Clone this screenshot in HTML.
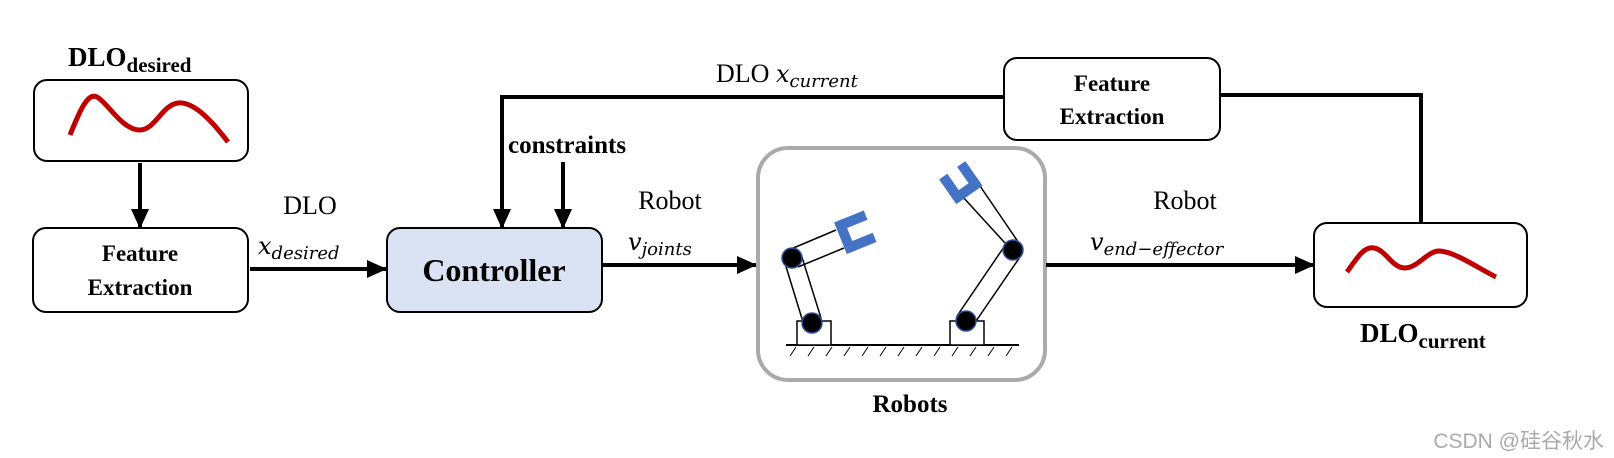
<!DOCTYPE html>
<html><head><meta charset="utf-8"><style>
html,body{margin:0;padding:0;background:#fff;}
svg{display:block;}
.b{font-family:"Liberation Serif",serif;font-weight:bold;}
.r{font-family:"Liberation Serif",serif;}
.i{font-family:"DejaVu Serif","Liberation Serif",serif;font-style:italic;}
</style></head><body>
<svg width="1614" height="458" viewBox="0 0 1614 458" xmlns="http://www.w3.org/2000/svg">
<defs>
<marker id="ah" markerWidth="20" markerHeight="18" refX="19" refY="9" orient="auto" markerUnits="userSpaceOnUse">
<path d="M0,0 L20,9 L0,18 Z" fill="#000"/></marker>
</defs>
<text x="68" y="66" class="b" font-size="27">DLO<tspan font-size="21" dy="6">desired</tspan></text>
<rect x="34" y="80" width="214" height="81" rx="13" fill="#fff" stroke="#000" stroke-width="2"/>
<path d="M70,135 C80,110 88,92 97,97 C108,103 122,130 140,130 C155,130 162,105 178,103 C195,101 215,125 228,142" fill="none" stroke="#c00000" stroke-width="5"/>
<line x1="140" y1="163" x2="140" y2="228" stroke="#000" stroke-width="4" marker-end="url(#ah)"/>
<rect x="33" y="228" width="215" height="84" rx="13" fill="#fff" stroke="#000" stroke-width="2"/>
<text x="140" y="261" class="b" font-size="23" text-anchor="middle">Feature</text>
<text x="140" y="295" class="b" font-size="23" text-anchor="middle">Extraction</text>
<text x="310" y="214" class="r" font-size="26" text-anchor="middle">DLO</text>
<text x="258" y="254" class="i" font-size="24">x<tspan font-size="18" dy="5">desired</tspan></text>
<line x1="250" y1="269" x2="386" y2="269" stroke="#000" stroke-width="4" marker-end="url(#ah)"/>
<rect x="387" y="228" width="215" height="84" rx="13" fill="#dae3f3" stroke="#000" stroke-width="2"/>
<text x="494" y="281" class="b" font-size="32" text-anchor="middle">Controller</text>
<polyline points="1004,97 502,97 502,228" fill="none" stroke="#000" stroke-width="4" marker-end="url(#ah)"/>
<text x="716" y="82" class="r" font-size="26">DLO <tspan class="i" font-size="24">x</tspan><tspan class="i" font-size="18" dy="5">current</tspan></text>
<text x="508" y="153" class="b" font-size="25">constraints</text>
<line x1="563" y1="162" x2="563" y2="228" stroke="#000" stroke-width="4" marker-end="url(#ah)"/>
<rect x="1004" y="58" width="216" height="82" rx="13" fill="#fff" stroke="#000" stroke-width="2"/>
<text x="1112" y="91" class="b" font-size="23" text-anchor="middle">Feature</text>
<text x="1112" y="124" class="b" font-size="23" text-anchor="middle">Extraction</text>
<polyline points="1221,95 1421,95 1421,223" fill="none" stroke="#000" stroke-width="4"/>
<text x="670" y="209" class="r" font-size="26" text-anchor="middle">Robot</text>
<text x="628" y="250" class="i" font-size="24">v<tspan font-size="18" dy="5">joints</tspan></text>
<line x1="603" y1="265" x2="756" y2="265" stroke="#000" stroke-width="4" marker-end="url(#ah)"/>
<rect x="758" y="148" width="287" height="232" rx="30" fill="#fff" stroke="#aaa" stroke-width="4"/>
<line x1="786" y1="345" x2="1019" y2="345" stroke="#000" stroke-width="2"/>
<g stroke="#000" stroke-width="1">
<path d="M790,356l6,-9M808,356l6,-9M826,356l6,-9M844,356l6,-9M862,356l6,-9M880,356l6,-9M898,356l6,-9M916,356l6,-9M934,356l6,-9M952,356l6,-9M970,356l6,-9M988,356l6,-9M1006,356l6,-9"/>
</g>
<rect x="797" y="321" width="34" height="24" fill="#fff" stroke="#000" stroke-width="1.5"/>
<line x1="784" y1="260" x2="803" y2="322" stroke="#000" stroke-width="1.5"/>
<line x1="801" y1="254" x2="821" y2="318" stroke="#000" stroke-width="1.5"/>
<line x1="791" y1="249" x2="836" y2="230" stroke="#000" stroke-width="1.5"/>
<line x1="798" y1="267" x2="844" y2="248" stroke="#000" stroke-width="1.5"/>
<g transform="translate(846,236) rotate(-22)">
<rect x="-6" y="-17" width="10" height="34" fill="#4472c4"/>
<rect x="-2" y="-17" width="28" height="10" fill="#4472c4"/>
<rect x="-2" y="7" width="28" height="10" fill="#4472c4"/>
</g>
<circle cx="792" cy="258" r="10" fill="#000" stroke="#2f4f9f" stroke-width="1.5"/>
<circle cx="812" cy="323" r="10" fill="#000" stroke="#2f4f9f" stroke-width="1.5"/>
<rect x="950" y="321" width="34" height="24" fill="#fff" stroke="#000" stroke-width="1.5"/>
<line x1="957" y1="316" x2="1006" y2="244" stroke="#000" stroke-width="1.5"/>
<line x1="974" y1="324" x2="1022" y2="254" stroke="#000" stroke-width="1.5"/>
<line x1="1005" y1="243" x2="962" y2="196" stroke="#000" stroke-width="1.5"/>
<line x1="1021" y1="246" x2="980" y2="186" stroke="#000" stroke-width="1.5"/>
<g transform="translate(966,190) rotate(-125)">
<rect x="-6" y="-16" width="10" height="32" fill="#4472c4"/>
<rect x="-2" y="-16" width="26" height="10" fill="#4472c4"/>
<rect x="-2" y="6" width="26" height="10" fill="#4472c4"/>
</g>
<circle cx="1013" cy="250" r="10" fill="#000" stroke="#2f4f9f" stroke-width="1.5"/>
<circle cx="966" cy="321" r="10" fill="#000" stroke="#2f4f9f" stroke-width="1.5"/>
<text x="910" y="412" class="b" font-size="25" text-anchor="middle">Robots</text>
<text x="1185" y="209" class="r" font-size="26" text-anchor="middle">Robot</text>
<text x="1090" y="250" class="i" font-size="24">v<tspan font-size="18" dy="5">end−effector</tspan></text>
<line x1="1046" y1="265" x2="1314" y2="265" stroke="#000" stroke-width="4" marker-end="url(#ah)"/>
<rect x="1314" y="223" width="213" height="84" rx="13" fill="#fff" stroke="#000" stroke-width="2"/>
<path d="M1347,272 C1357,258 1364,246 1374,248 C1386,250 1392,268 1405,268 C1418,268 1428,250 1440,251 C1455,252 1478,268 1496,277" fill="none" stroke="#c00000" stroke-width="5"/>
<text x="1360" y="342" class="b" font-size="27">DLO<tspan font-size="21" dy="6">current</tspan></text>
<text x="1604" y="448" font-family="'Liberation Sans','Noto Sans CJK SC',sans-serif" font-size="21" fill="#aaa" text-anchor="end">CSDN @硅谷秋水</text>
</svg>
</body></html>
